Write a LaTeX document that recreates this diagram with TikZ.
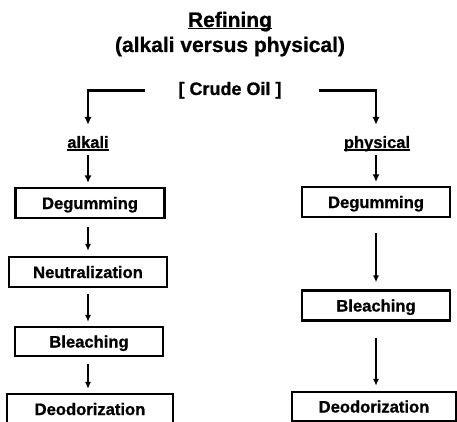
\documentclass[tikz,border=0pt]{standalone}
\usepackage{fontspec}
\setmainfont{Liberation Sans}[BoldFeatures={FakeBold=0.8}]
\usetikzlibrary{arrows.meta}
\begin{document}
\begin{tikzpicture}[x=1pt,y=-1pt,
  procbox/.style={draw, line width=2.2pt, inner sep=0pt, minimum height=30pt,
    text height=12pt, text depth=0pt,
    font=\fontsize{16.6}{18}\selectfont\bfseries},
  txt/.style={inner sep=0pt, font=\fontsize{16.5}{18}\selectfont\bfseries},
  bigarrow/.style={line width=2.8pt, -{Latex[length=8pt,width=7.5pt]}},
  midarrow/.style={line width=2.3pt, -{Latex[length=7.5pt,width=7pt]}},
  smallarrow/.style={line width=1.5pt, -{Latex[length=7pt,width=6pt]}},
  uline/.style={line width=1.8pt}]
\useasboundingbox (0,0) rectangle (457,422);
\clip (0,0) rectangle (457,422);

% titles
\node[inner sep=0pt, anchor=base, font=\fontsize{21}{24}\selectfont\bfseries] (ref) at (230,27) {Refining};
\draw[uline] ([yshift=-1.5pt]ref.base west) -- ([yshift=-1.5pt]ref.base east);
\node[inner sep=0pt, anchor=base, font=\fontsize{21}{24}\selectfont\bfseries] (sub) at (230,52) {(alkali versus physical)};

\node[inner sep=0pt, anchor=base, font=\fontsize{18}{20}\selectfont\bfseries] (crude) at (230,95) {[ Crude Oil ]};

\node[txt, anchor=base] (alk) at (88,148) {alkali};
\draw[uline] ([yshift=-2pt]alk.base west) -- ([yshift=-2pt]alk.base east);
\node[txt, anchor=base] (phy) at (377,148) {physical};
\draw[uline] ([yshift=-2pt]phy.base west) -- ([yshift=-2pt]phy.base east);

% left column
\node[procbox, minimum width=149pt] (l1) at (90,203) {Degumming};
\node[procbox, minimum width=158pt] (l2) at (88,272) {Neutralization};
\node[procbox, minimum width=148pt, minimum height=29pt] (l3) at (89,341.5) {Bleaching};
\node[procbox, minimum width=166pt] (l4) at (90,409) {Deodorization};

% right column
\node[procbox, minimum width=148pt] (r1) at (376,202) {Degumming};
\node[procbox, minimum width=148pt] (r2) at (376,305.5) {Bleaching};
\node[procbox, minimum width=164pt, minimum height=29pt] (r3) at (374,406.5) {Deodorization};

% crude oil connectors
\draw[bigarrow, shorten >=11pt] ([xshift=-33pt]crude.west) -| (alk.north);
\draw[bigarrow, shorten >=11pt] ([xshift=37pt]crude.east) -| ([xshift=-1pt]phy.north);

% left arrows
\draw[midarrow, shorten <=7pt, shorten >=4pt] (alk.base) -- (alk.base |- l1.north);
\draw[smallarrow, shorten <=8pt, shorten >=5pt] (l1.south -| alk.base) -- (alk.base |- l2.north);
\draw[smallarrow, shorten <=6pt, shorten >=4pt] (l2.south -| alk.base) -- (alk.base |- l3.north);
\draw[smallarrow, shorten <=7pt, shorten >=4pt] (l3.south -| alk.base) -- (alk.base |- l4.north);

% right arrows
\draw[midarrow, shorten <=7pt, shorten >=4pt] ([xshift=-1pt]phy.base) -- ([xshift=-1pt]phy.base |- r1.north);
\draw[smallarrow, shorten <=15pt, shorten >=7pt] (r1.south) -- (r2.north);
\draw[smallarrow, shorten <=16pt, shorten >=5pt] (r2.south) -- (r2.south |- r3.north);
\end{tikzpicture}
\end{document}
